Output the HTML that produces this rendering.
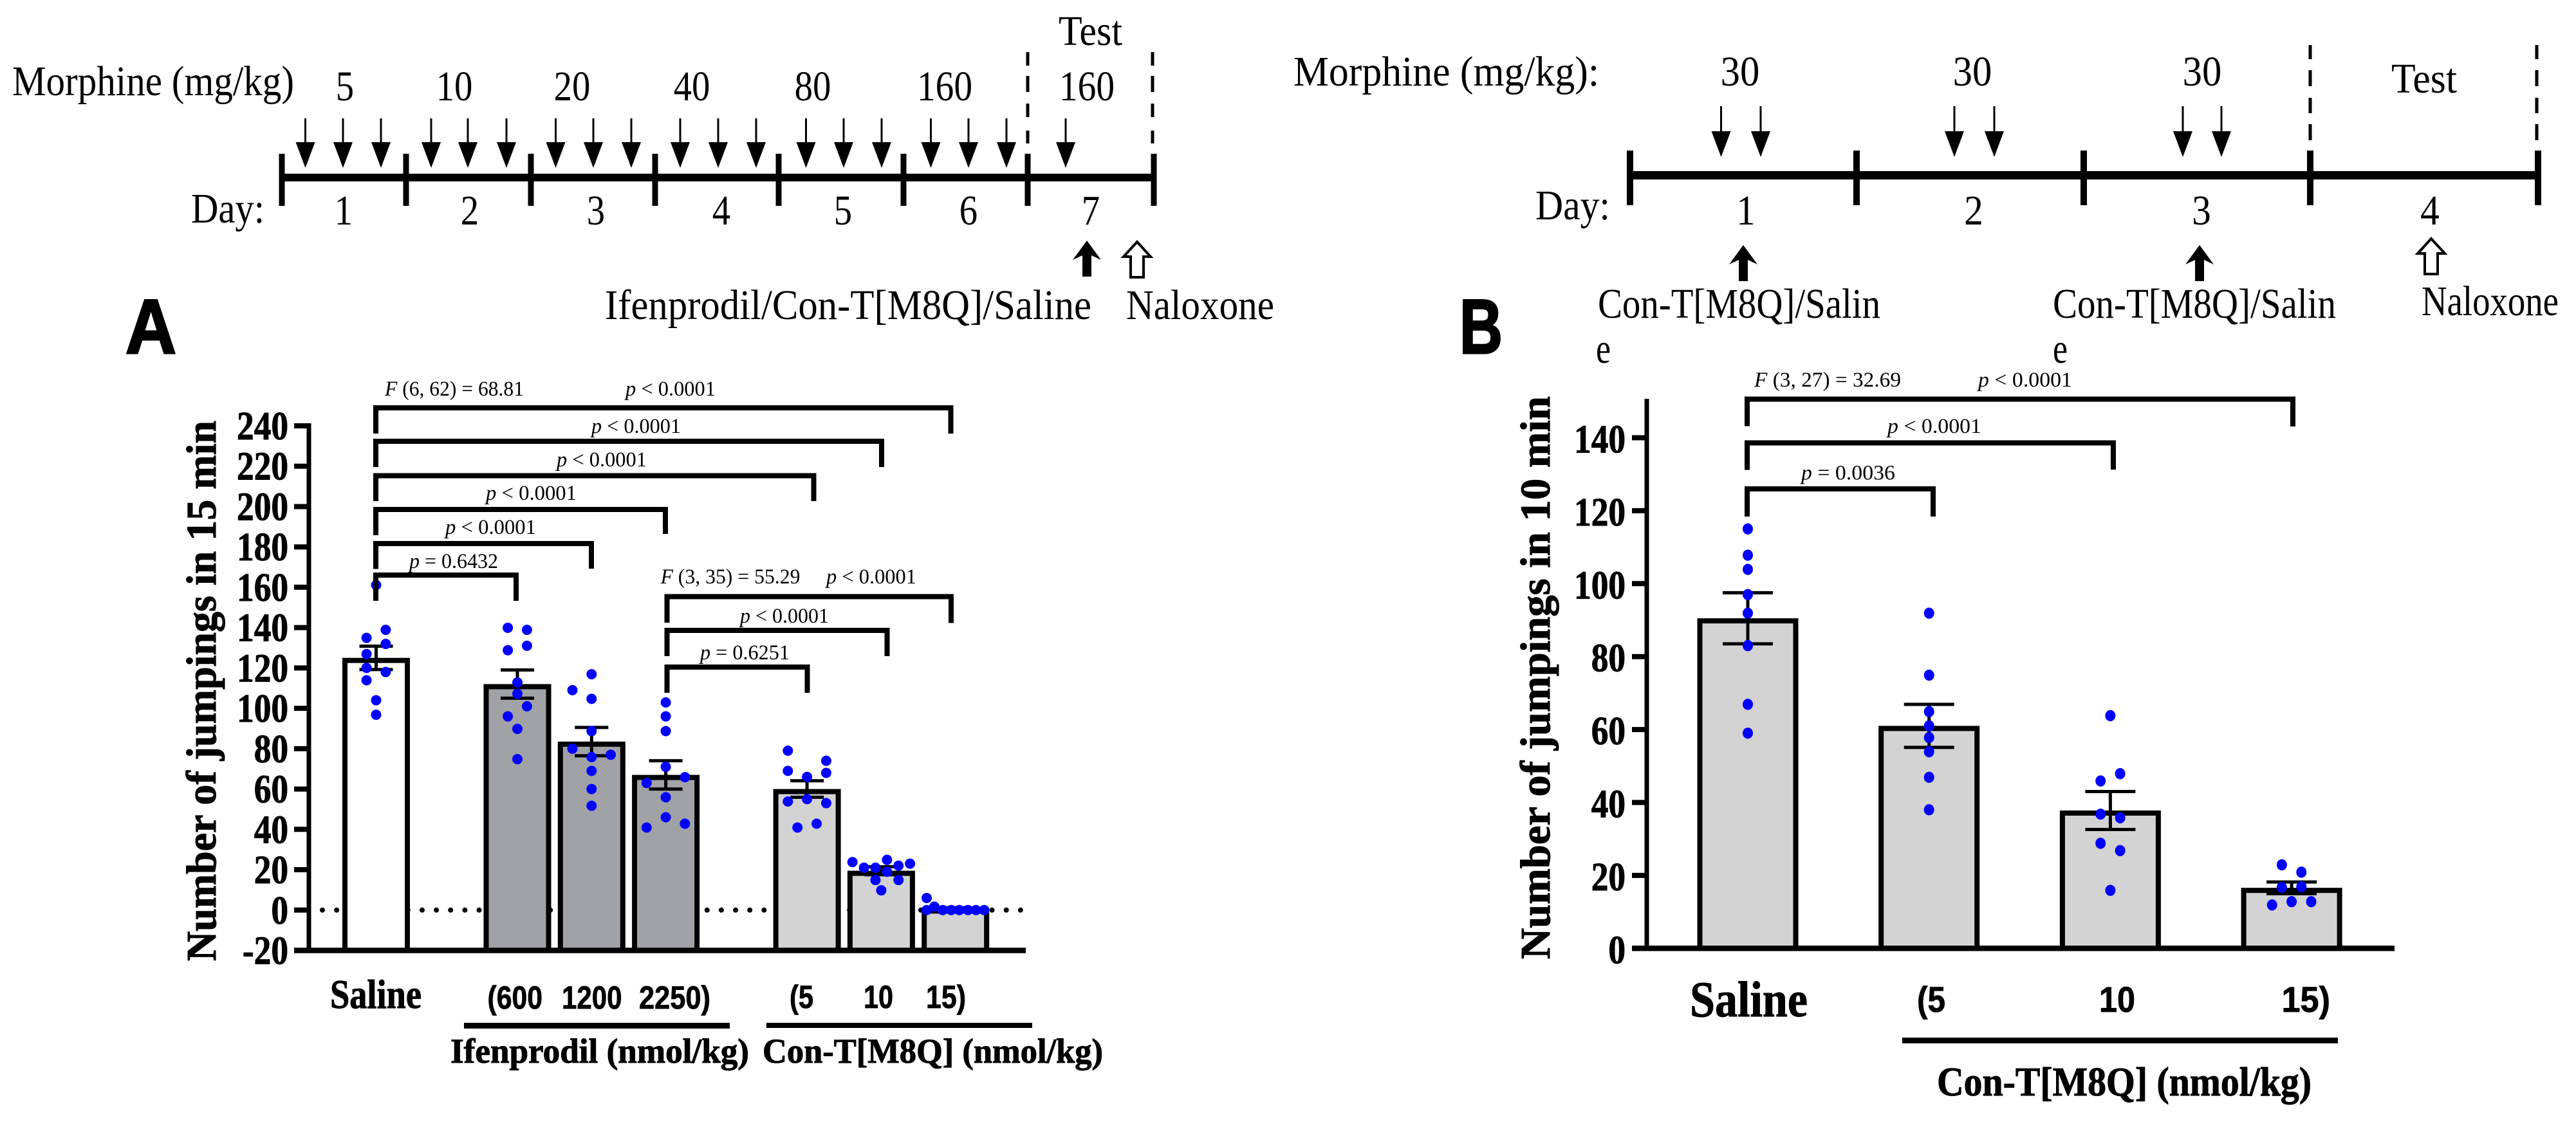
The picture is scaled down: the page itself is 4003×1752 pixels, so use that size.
<!DOCTYPE html>
<html lang="en">
<head>
<meta charset="utf-8">
<title>Morphine withdrawal jumping: Ifenprodil and Con-T[M8Q]</title>
<style>
html,body{margin:0;padding:0;background:#fff;}
svg{display:block;}
.s{font-family:"Liberation Serif",serif;fill:#000;}
.tl{font-size:66px;}
.st{font-size:33px;}
.bs{font-family:"Liberation Serif",serif;font-weight:bold;fill:#000;stroke:#000;stroke-width:1;}
.bn{font-family:"Liberation Sans",sans-serif;font-weight:bold;fill:#000;stroke:#000;stroke-width:.8;}
.br{fill:none;stroke:#000;stroke-width:8;stroke-linejoin:miter;}
</style>
</head>
<body>
<svg id="figure" xmlns="http://www.w3.org/2000/svg" width="4003" height="1752" viewBox="0 0 4003 1752">
<rect x="0" y="0" width="4003" height="1752" fill="#fff"/>
<defs>
<g id="da"><line x1="0" y1="0" x2="0" y2="41" stroke="#000" stroke-width="3"/><polygon points="-15,37 15,37 0,77" fill="#000"/></g>
<g id="db"><line x1="0" y1="0" x2="0" y2="41" stroke="#000" stroke-width="3"/><polygon points="-15,39 15,39 0,79" fill="#000"/></g>
<polygon id="ua" points="0,0 22,30 7,23 7,56 -7,56 -7,23 -22,30" fill="#000"/>
<polygon id="ho" points="0,0 21,23 10,23 10,55 -10,55 -10,23 -21,23" fill="#fff" stroke="#000" stroke-width="4"/>
</defs>

<!-- Timeline A -->
<g>
<text class="s tl" x="19" y="148" textLength="438" lengthAdjust="spacingAndGlyphs">Morphine (mg/kg)</text>
<text class="s tl" text-anchor="middle" transform="translate(536,156) scale(.86,1)">5</text>
<text class="s tl" text-anchor="middle" transform="translate(706,156) scale(.86,1)">10</text>
<text class="s tl" text-anchor="middle" transform="translate(889,156) scale(.86,1)">20</text>
<text class="s tl" text-anchor="middle" transform="translate(1075,156) scale(.86,1)">40</text>
<text class="s tl" text-anchor="middle" transform="translate(1263,156) scale(.86,1)">80</text>
<text class="s tl" text-anchor="middle" transform="translate(1468,156) scale(.87,1)">160</text>
<text class="s tl" text-anchor="middle" transform="translate(1689,156) scale(.87,1)">160</text>
<text class="s tl" x="1645" y="70" textLength="99" lengthAdjust="spacingAndGlyphs">Test</text>
<path d="M1597 81V102M1597 118V143M1597 161V182M1597 203V223" stroke="#000" stroke-width="5" fill="none"/>
<path d="M1791 81V102M1791 118V143M1791 161V182M1791 203V223" stroke="#000" stroke-width="5" fill="none"/>
<use href="#da" x="474.5" y="184"/>
<use href="#da" x="533" y="184"/>
<use href="#da" x="592" y="184"/>
<use href="#da" x="670" y="184"/>
<use href="#da" x="727" y="184"/>
<use href="#da" x="787" y="184"/>
<use href="#da" x="863.5" y="184"/>
<use href="#da" x="922" y="184"/>
<use href="#da" x="981" y="184"/>
<use href="#da" x="1057" y="184"/>
<use href="#da" x="1116" y="184"/>
<use href="#da" x="1175" y="184"/>
<use href="#da" x="1252.5" y="184"/>
<use href="#da" x="1311" y="184"/>
<use href="#da" x="1370" y="184"/>
<use href="#da" x="1446.5" y="184"/>
<use href="#da" x="1505" y="184"/>
<use href="#da" x="1564" y="184"/>
<use href="#da" x="1656" y="184"/>
<rect x="436" y="270" width="1360" height="12" fill="#000"/>
<path d="M438 239V320M631 239V320M825 239V320M1018 239V320M1210 239V320M1404 239V320M1597 239V320M1793 239V320" stroke="#000" stroke-width="9" fill="none"/>
<text class="s tl" x="297" y="346" textLength="114" lengthAdjust="spacingAndGlyphs">Day:</text>
<text class="s tl" text-anchor="middle" transform="translate(534,349) scale(.86,1)">1</text>
<text class="s tl" text-anchor="middle" transform="translate(730,349) scale(.86,1)">2</text>
<text class="s tl" text-anchor="middle" transform="translate(926,349) scale(.86,1)">3</text>
<text class="s tl" text-anchor="middle" transform="translate(1121,349) scale(.86,1)">4</text>
<text class="s tl" text-anchor="middle" transform="translate(1310,349) scale(.86,1)">5</text>
<text class="s tl" text-anchor="middle" transform="translate(1505,349) scale(.86,1)">6</text>
<text class="s tl" text-anchor="middle" transform="translate(1695,349) scale(.86,1)">7</text>
<use href="#ua" x="1689" y="374"/>
<use href="#ho" x="1767" y="376"/>
<text class="s tl" x="940" y="496" textLength="756" lengthAdjust="spacingAndGlyphs">Ifenprodil/Con-T[M8Q]/Saline</text>
<text class="s tl" x="1750" y="496" textLength="230" lengthAdjust="spacingAndGlyphs">Naloxone</text>
</g>

<!-- Timeline B -->
<g>
<text class="s tl" x="2010" y="133" textLength="475" lengthAdjust="spacingAndGlyphs">Morphine (mg/kg):</text>
<text class="s tl" text-anchor="middle" transform="translate(2704,133) scale(.92,1)">30</text>
<text class="s tl" text-anchor="middle" transform="translate(3065,133) scale(.92,1)">30</text>
<text class="s tl" text-anchor="middle" transform="translate(3422,133) scale(.92,1)">30</text>
<text class="s tl" x="3716" y="144" textLength="102" lengthAdjust="spacingAndGlyphs">Test</text>
<path d="M3590 70V92M3590 109V134M3590 152V176M3590 193V218" stroke="#000" stroke-width="5" fill="none"/>
<path d="M3942 70V92M3942 109V134M3942 152V176M3942 193V218" stroke="#000" stroke-width="5" fill="none"/>
<use href="#db" x="2674.5" y="165"/>
<use href="#db" x="2736" y="165"/>
<use href="#db" x="3037" y="165"/>
<use href="#db" x="3099" y="165"/>
<use href="#db" x="3392" y="165"/>
<use href="#db" x="3452" y="165"/>
<rect x="2530" y="266" width="1418" height="13" fill="#000"/>
<path d="M2533 234V319M2885 234V319M3238 234V319M3590 234V319M3944 234V319" stroke="#000" stroke-width="10" fill="none"/>
<text class="s tl" x="2386" y="341" textLength="116" lengthAdjust="spacingAndGlyphs">Day:</text>
<text class="s tl" text-anchor="middle" transform="translate(2713,349) scale(.9,1)">1</text>
<text class="s tl" text-anchor="middle" transform="translate(3067,349) scale(.9,1)">2</text>
<text class="s tl" text-anchor="middle" transform="translate(3421,349) scale(.9,1)">3</text>
<text class="s tl" text-anchor="middle" transform="translate(3776,349) scale(.9,1)">4</text>
<use href="#ua" x="2709" y="381"/>
<use href="#ua" x="3418" y="381"/>
<use href="#ho" x="3778" y="371"/>
<text class="s tl" x="2483" y="494" textLength="439" lengthAdjust="spacingAndGlyphs">Con-T[M8Q]/Salin</text>
<text class="s tl" x="2480" y="564" textLength="23" lengthAdjust="spacingAndGlyphs">e</text>
<text class="s tl" x="3190" y="494" textLength="440" lengthAdjust="spacingAndGlyphs">Con-T[M8Q]/Salin</text>
<text class="s tl" x="3190" y="564" textLength="23" lengthAdjust="spacingAndGlyphs">e</text>
<text class="s tl" x="3763" y="490" textLength="213" lengthAdjust="spacingAndGlyphs">Naloxone</text>
</g>

<text class="bn" font-size="120" style="stroke-width:3" x="195" y="549" textLength="79" lengthAdjust="spacingAndGlyphs">A</text>
<text class="bn" font-size="120" style="stroke-width:3" x="2268" y="549" textLength="67" lengthAdjust="spacingAndGlyphs">B</text>

<!-- Chart A marks -->
<g id="chart-a"></g>
<!-- Chart B marks -->
<g id="chart-b"></g>

<!-- Chart A annotation -->
<text class="bs" font-size="66" transform="translate(335,1494) rotate(-90)" textLength="840" lengthAdjust="spacingAndGlyphs">Number of jumpings in 15 min</text>
<g>
<path class="br" d="M584 674V634H1477.5V674"/>
<path class="br" d="M584 726V686H1370V726"/>
<path class="br" d="M584 779V739.5H1264.5V779"/>
<path class="br" d="M584 832V792H1034V830"/>
<path class="br" d="M584 884.5V845H919V884"/>
<path class="br" d="M584 934V894H802V934"/>
<path class="br" d="M1036.5 968V927.5H1478V968.5"/>
<path class="br" d="M1036.5 1020V980H1378.5V1020"/>
<path class="br" d="M1036.5 1077V1037H1254.5V1077"/>
<text class="s st" x="598" y="615" textLength="216" lengthAdjust="spacingAndGlyphs"><tspan font-style="italic">F</tspan> (6, 62) = 68.81</text>
<text class="s st" x="972" y="615" textLength="140" lengthAdjust="spacingAndGlyphs"><tspan font-style="italic">p</tspan> &lt; 0.0001</text>
<text class="s st" x="919" y="673" textLength="139" lengthAdjust="spacingAndGlyphs"><tspan font-style="italic">p</tspan> &lt; 0.0001</text>
<text class="s st" x="865" y="725" textLength="140" lengthAdjust="spacingAndGlyphs"><tspan font-style="italic">p</tspan> &lt; 0.0001</text>
<text class="s st" x="755" y="777" textLength="141" lengthAdjust="spacingAndGlyphs"><tspan font-style="italic">p</tspan> &lt; 0.0001</text>
<text class="s st" x="692" y="830" textLength="141" lengthAdjust="spacingAndGlyphs"><tspan font-style="italic">p</tspan> &lt; 0.0001</text>
<text class="s st" x="636" y="883" textLength="138" lengthAdjust="spacingAndGlyphs"><tspan font-style="italic">p</tspan> = 0.6432</text>
<text class="s st" x="1026.5" y="907" textLength="217" lengthAdjust="spacingAndGlyphs"><tspan font-style="italic">F</tspan> (3, 35) = 55.29</text>
<text class="s st" x="1284" y="907" textLength="140" lengthAdjust="spacingAndGlyphs"><tspan font-style="italic">p</tspan> &lt; 0.0001</text>
<text class="s st" x="1150" y="968" textLength="138" lengthAdjust="spacingAndGlyphs"><tspan font-style="italic">p</tspan> &lt; 0.0001</text>
<text class="s st" x="1088" y="1025" textLength="139" lengthAdjust="spacingAndGlyphs"><tspan font-style="italic">p</tspan> = 0.6251</text>
</g>
<text class="bs" font-size="64" x="513" y="1567" textLength="142" lengthAdjust="spacingAndGlyphs">Saline</text>
<text class="bn" font-size="50" x="757.5" y="1568" textLength="85.5" lengthAdjust="spacingAndGlyphs">(600</text>
<text class="bn" font-size="50" x="873" y="1568" textLength="93.5" lengthAdjust="spacingAndGlyphs">1200</text>
<text class="bn" font-size="50" x="993" y="1568" textLength="111" lengthAdjust="spacingAndGlyphs">2250)</text>
<text class="bn" font-size="50" x="1227" y="1567" textLength="37" lengthAdjust="spacingAndGlyphs">(5</text>
<text class="bn" font-size="50" x="1342" y="1567" textLength="46" lengthAdjust="spacingAndGlyphs">10</text>
<text class="bn" font-size="50" x="1439" y="1567" textLength="62" lengthAdjust="spacingAndGlyphs">15)</text>
<rect x="721" y="1590" width="413" height="9" fill="#000"/>
<rect x="1191" y="1590" width="413" height="8" fill="#000"/>
<text class="bs" font-size="54" x="700" y="1652" textLength="464" lengthAdjust="spacingAndGlyphs">Ifenprodil (nmol/kg)</text>
<text class="bs" font-size="54" x="1185" y="1652" textLength="529" lengthAdjust="spacingAndGlyphs">Con-T[M8Q] (nmol/kg)</text>

<!-- Chart B annotation -->
<text class="bs" font-size="66" transform="translate(2408,1491) rotate(-90)" textLength="875" lengthAdjust="spacingAndGlyphs">Number of jumpings in 10 min</text>
<g>
<path class="br" d="M2715 662.5V620.5H3563V663"/>
<path class="br" d="M2715 730.5V688.5H3284V730"/>
<path class="br" d="M2715 803V760H3004V803"/>
<text class="s st" x="2726" y="601" textLength="228" lengthAdjust="spacingAndGlyphs"><tspan font-style="italic">F</tspan> (3, 27) = 32.69</text>
<text class="s st" x="3074" y="601" textLength="146" lengthAdjust="spacingAndGlyphs"><tspan font-style="italic">p</tspan> &lt; 0.0001</text>
<text class="s st" x="2933" y="673" textLength="146" lengthAdjust="spacingAndGlyphs"><tspan font-style="italic">p</tspan> &lt; 0.0001</text>
<text class="s st" x="2799" y="745.5" textLength="146" lengthAdjust="spacingAndGlyphs"><tspan font-style="italic">p</tspan> = 0.0036</text>
</g>
<text class="bs" font-size="78" x="2626" y="1580" textLength="183" lengthAdjust="spacingAndGlyphs">Saline</text>
<text class="bn" font-size="56" x="2979" y="1573" textLength="44" lengthAdjust="spacingAndGlyphs">(5</text>
<text class="bn" font-size="56" x="3262" y="1573" textLength="56" lengthAdjust="spacingAndGlyphs">10</text>
<text class="bn" font-size="56" x="3545.5" y="1573" textLength="75.5" lengthAdjust="spacingAndGlyphs">15)</text>
<rect x="2956" y="1613" width="677" height="9" fill="#000"/>
<text class="bs" font-size="64" x="3010" y="1703" textLength="582" lengthAdjust="spacingAndGlyphs">Con-T[M8Q] (nmol/kg)</text>
</svg>

<script>
// ===== Chart A data =====
const categoriesA = ['Saline', '600', '1200', '2250', '5', '10', '15'];
const groupOfA = [0, 1, 1, 1, 2, 2, 2];
const meansA = [125, 112, 83.5, 67, 60, 19.5, 0.8];
const semA = [5.8, 7, 7, 7, 4.1, 2, 0.4];
const fillsA = ['#ffffff', '#a1a2a6', '#a1a2a6', '#a1a2a6', '#d3d3d3', '#d3d3d3', '#d3d3d3'];
const ticksA = [-20, 0, 20, 40, 60, 80, 100, 120, 140, 160, 180, 200, 220, 240];
const pointsA = [
  [161.1, 138.9, 134.9, 131.9, 126.9, 120, 118, 113.9, 104, 96.8],
  [139.9, 138.9, 131, 128.8, 112.8, 107.2, 101, 96, 89.8, 74.8],
  [116.9, 109, 104.7, 88.7, 80, 77, 75.8, 69, 60, 51.7],
  [102.9, 96, 88.7, 71, 65.9, 63, 55.9, 46, 42.8, 40.9],
  [79, 74, 69, 68, 66, 55, 53.8, 53, 42.8, 40.9],
  [23.8, 21, 21, 24.9, 22, 23, 19, 14.9, 14.9, 9.8],
  [6, 1.7, 0, 0, 0, 0, 0, 0, 0]
];
// swarm column of each point (in dot-column units, 0 = bar centre)
const swarmA = [
  [0, 1, -1, 1, -1, -1, 1, -1, 0, 0],
  [-1, 1, 1, -1, 0, 0, 1, -1, 0, 0],
  [0, -2, 0, 0, -2, 2, 0, 0, 0, 0],
  [0, 0, 0, 0, 2, -2, 0, 0, 2, -2],
  [-2, 2, -2, 2, 0, 0, -2, 2, 1, -1],
  [-3, -1.8, -0.6, 0.6, 1.8, 3, 0.6, -0.6, 1.8, 0],
  [-3, -2.2, -3, -1.33, -0.44, 0.4, 1.3, 2.15, 3]
];

// ===== Chart B data =====
const categoriesB = ['Saline', '5', '10', '15'];
const meansB = [90.5, 61, 37.8, 16.6];
const semB = [7, 5.9, 5.2, 1.6];
const ticksB = [0, 20, 40, 60, 80, 100, 120, 140];
const pointsB = [
  [115, 107.8, 103.9, 97, 91.9, 83, 66.9, 59],
  [91.9, 74.9, 64.9, 61, 57.8, 53.9, 46.9, 38],
  [63.8, 47.9, 45.9, 36.8, 35.8, 28.8, 26.8, 15.9],
  [22.9, 20.9, 16.7, 16.9, 12.8, 12.8, 11.9]
];
const swarmB = [
  [0, 0, 0, 0, 0, 0, 0, 0],
  [0, 0, 0, 0, 0, 0, 0, 0],
  [0, 1, -1, -1, 1, -1, 1, 0],
  [-1, 1, -1, 1, 0, 2, -2]
];

const NS = 'http://www.w3.org/2000/svg';
function mk(parent, tag, props) {
  const el = document.createElementNS(NS, tag);
  for (const k in props) el.setAttribute(k, props[k]);
  parent.appendChild(el);
  return el;
}

// axis functions
function yA(v) { return 1477.5 + (v - (-20)) * (662 - 1477.5) / (240 - (-20)); }
function yB(v) { return 1474.3 + (v - 0) * (680.5 - 1474.3) / (140 - 0); }
function xA(i) { return 584.5 + 115.3 * i + 104.2 * groupOfA[i]; }
function xB(i) { return 2716 + 281.7 * i; }

function drawChart(opts) {
  const g = document.getElementById(opts.id);
  const base = opts.y(opts.axisValue);

  if (opts.zeroLine) {
    const z = mk(g, 'line', {x1: 501, x2: 1590, y1: opts.y(0), y2: opts.y(0), stroke: '#000', 'stroke-width': 8, 'stroke-linecap': 'round', 'stroke-dasharray': '0 22.14'});
    
    
  }

  opts.means.forEach(function (m, i) {
    const cx = opts.x(i);
    const top = opts.y(m);
    const b = mk(g, 'rect', {x: cx - opts.barW / 2 + 4, y: top + 4, width: opts.barW - 8, height: Math.max(0, base - top - 4), fill: opts.fills[i], stroke: '#000', 'stroke-width': 8});
    
    
  });

  opts.means.forEach(function (m, i) {
    const cx = opts.x(i);
    const hi = opts.y(m + opts.sem[i]);
    const lo = opts.y(m - opts.sem[i]);
    const p = mk(g, 'path', {d: 'M' + (cx - opts.capW / 2) + ' ' + hi + 'H' + (cx + opts.capW / 2) + 'M' + cx + ' ' + hi + 'V' + lo + 'M' + (cx - opts.capW / 2) + ' ' + lo + 'H' + (cx + opts.capW / 2), fill: 'none', stroke: '#000', 'stroke-width': 5});
    
    
  });

  opts.points.forEach(function (vals, i) {
    vals.forEach(function (v, j) {
      const c = mk(g, 'ellipse', {cx: opts.x(i) + opts.swarm[i][j] * opts.swarmUnit, cy: opts.y(v), rx: 8, ry: opts.dotRy, fill: '#0000ff'});
      
      
    });
  });

  const ax = mk(g, 'path', {d: 'M' + opts.axisX + ' ' + opts.axisTop + 'V' + (base + 4), fill: 'none', stroke: '#000', 'stroke-width': 7});
  
  

  const xax = mk(g, 'path', {d: 'M' + opts.tickL + ' ' + base + 'H' + opts.axisEnd, fill: 'none', stroke: '#000', 'stroke-width': 8.5});
  
  

  opts.ticks.forEach(function (t) {
    const ty = opts.y(t);
    const tk = mk(g, 'path', {d: 'M' + opts.tickL + ' ' + ty + 'H' + opts.axisX, fill: 'none', stroke: '#000', 'stroke-width': 8});
    
    
    const lb = mk(g, 'text', {'class': 'bs', 'font-size': 62, 'text-anchor': 'end', transform: 'translate(' + opts.labelX + ',' + (ty + opts.labelDy) + ') scale(.86,1)'});
    
    
    lb.textContent = String(t);
  });
}

drawChart({
  id: 'chart-a', x: xA, y: yA, means: meansA, sem: semA, points: pointsA, swarm: swarmA,
  fills: fillsA, cats: categoriesA, ticks: ticksA, axisValue: -20, barW: 105, capW: 52,
  swarmUnit: 14.9, dotRy: 8, zeroLine: true, axisX: 480, axisTop: 658, tickL: 457, axisEnd: 1594,
  labelX: 448, labelDy: 21
});
drawChart({
  id: 'chart-b', x: xB, y: yB, means: meansB, sem: semB, points: pointsB, swarm: swarmB,
  fills: ['#d3d3d3', '#d3d3d3', '#d3d3d3', '#d3d3d3'], cats: categoriesB, ticks: ticksB, axisValue: 0, barW: 157, capW: 78,
  swarmUnit: 15.2, dotRy: 8.7, zeroLine: false, axisX: 2559, axisTop: 620, tickL: 2536, axisEnd: 3721,
  labelX: 2526, labelDy: 23
});
</script>
</body>
</html>
